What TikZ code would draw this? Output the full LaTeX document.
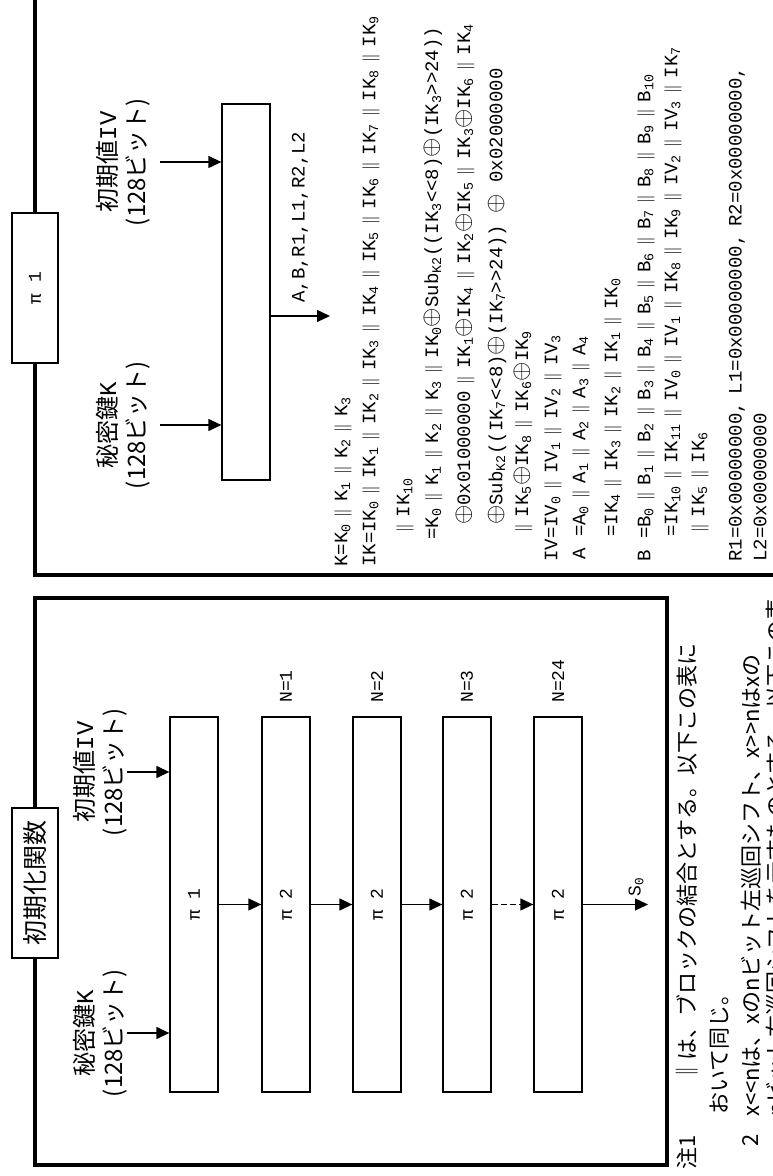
\documentclass[tikz,border=0pt]{standalone}
\usepackage{fontspec}
\setmainfont{Liberation Mono}
\newfontfamily\jpfont{Noto Sans CJK JP}
\usetikzlibrary{arrows.meta,positioning}
\newcommand\cat{\hspace{7pt}$\|$\hspace{7pt}}
\newcommand\xo{{\fontsize{24}{24}\selectfont$\oplus$}}
\newcommand\ix[1]{\textsubscript{#1}}
\newcommand\shl{<\kern0pt<}
\newcommand\shr{>\kern0pt>}
\tikzset{
  frame/.style={line width=4.5pt},
  tab/.style={draw,line width=1.3pt,fill=white,minimum width=150pt,minimum height=46pt,inner sep=0pt},
  stage/.style={draw,line width=1.3pt,minimum width=375pt,minimum height=48pt,inner sep=0pt,font=\fontsize{18}{22}\selectfont},
  flow/.style={line width=1.3pt,-{Triangle[length=13pt,width=12pt]}},
  jlab/.style={font=\jpfont\fontsize{24}{29}\selectfont,align=center,inner sep=0pt},
  tag/.style={anchor=west,inner sep=0pt,font=\fontsize{18}{22}\selectfont},
  eq/.style={anchor=west,inner sep=0pt,font=\fontsize{19}{23}\selectfont},
  note/.style={anchor=west,inner sep=0pt,font=\jpfont\fontsize{22}{26}\selectfont},
}
\begin{document}
\begin{tikzpicture}[x=1pt,y=1pt]
\useasboundingbox (0,0) rectangle (773,1176);
\clip (0,0) rectangle (773,1176);
% drawn lying on its side, then turned
\begin{scope}[rotate=90,transform shape]
% panels
\draw[frame] (11,-35) rectangle (578,-667);
\draw[frame] (601,-35) rectangle (1260,-860);
\node[tab,font=\jpfont\fontsize{25}{30}\selectfont] (initlab) at (293,-35) {初期化関数};
\node[tab,font=\fontsize{18}{22}\selectfont] (pilab) at (888,-35) {π 1};

% left panel: the chain of rounds
\node[stage] (p0) at (271.5,-194) {π 1};
\node[stage] (p1) at (271.5,-286) {π 2};
\node[stage] (p2) at (271.5,-377) {π 2};
\node[stage] (p3) at (271.5,-467) {π 2};
\node[stage] (p4) at (271.5,-558) {π 2};
\node[tag] (n1) at (473,-286) {N=1};
\node[tag] (n2) at (473,-377) {N=2};
\node[tag] (n3) at (473,-467) {N=3};
\node[tag] (n24) at (473,-558) {N=24};
\draw[flow] (p0) -- (p1);
\draw[flow] (p1) -- (p2);
\draw[flow] (p2) -- (p3);
\draw[flow,dash pattern=on 6pt off 3pt] (p3) -- (p4);
\coordinate (s0) at (271.5,-648);
\draw[flow] (p4) -- (s0);
\node[tag] (s0lab) at (279,-636) {S\ix{0}};

\node[jlab,anchor=south] (keyL) at (143,-127) {秘密鍵{\rmfamily K}\\(128ビット)};
\node[jlab,anchor=south] (ivL) at (404,-127) {初期値{\rmfamily IV}\\(128ビット)};
\draw[flow] (keyL.south) -- (keyL.south |- p0.north);
\draw[flow] (ivL.south) -- (ivL.south |- p0.north);

% right panel: inside pi 1
\node[stage,minimum width=376pt] (pione) at (884,-246) {};
\node[jlab,anchor=south] (keyR) at (751,-150) {秘密鍵{\rmfamily K}\\(128ビット)};
\node[jlab,anchor=south] (ivR) at (1014,-150) {初期値{\rmfamily IV}\\(128ビット)};
\draw[flow,shorten <=10pt] (keyR.south) -- (keyR.south |- pione.north);
\draw[flow,shorten <=10pt] (ivR.south) -- (ivR.south |- pione.north);
\coordinate (about) at (860,-330);
\draw[flow] (about |- pione.south) -- (about);
\node[eq] (outlab) at (873,-300) {A,B,R1,L1,R2,L2};

% definitions
\node[eq] (eq1) at (609,-343) {K=K\ix0\cat K\ix1\cat K\ix2\cat K\ix3};
\node[eq] (eq2) at (609,-371) {IK=IK\ix0\cat IK\ix1\cat IK\ix2\cat IK\ix3\cat IK\ix4\cat IK\ix5\cat IK\ix6\cat IK\ix7\cat IK\ix8\cat IK\ix9};
\node[eq] (eq3) at (643,-405) {$\|$\hspace{7pt}IK\ix{10}};
\node[eq] (eq4) at (636,-433) {=K\ix0\cat K\ix1\cat K\ix2\cat K\ix3\cat IK\ix0\xo Sub\ix{K2}((IK\ix3\shl8)\xo(IK\ix3\shr24))};
\node[eq] (eq5) at (651,-465) {\xo 0x01000000\cat IK\ix1\xo IK\ix4\cat IK\ix2\xo IK\ix5\cat IK\ix3\xo IK\ix6\cat IK\ix4};
\node[eq] (eq6) at (651,-497) {\xo Sub\ix{K2}((IK\ix7\shl8)\xo(IK\ix7\shr24))\ \xo\ 0x02000000};
\node[eq] (eq7) at (643,-523) {$\|$\hspace{7pt}IK\ix5\xo IK\ix8\cat IK\ix6\xo IK\ix9};
\node[eq] (eq8) at (614,-553) {IV=IV\ix0\cat IV\ix1\cat IV\ix2\cat IV\ix3};
\node[eq] (eq9) at (616,-581) {A =A\ix0\cat A\ix1\cat A\ix2\cat A\ix3\cat A\ix4};
\node[eq] (eq10) at (639,-613) {=IK\ix4\cat IK\ix3\cat IK\ix2\cat IK\ix1\cat IK\ix0};
\node[eq] (eq11) at (614,-646) {B =B\ix0\cat B\ix1\cat B\ix2\cat B\ix3\cat B\ix4\cat B\ix5\cat B\ix6\cat B\ix7\cat B\ix8\cat B\ix9\cat B\ix{10}};
\node[eq] (eq12) at (639,-673) {=IK\ix{10}\cat IK\ix{11}\cat IV\ix0\cat IV\ix1\cat IK\ix8\cat IK\ix9\cat IV\ix2\cat IV\ix3\cat IK\ix7};
\node[eq] (eq13) at (643,-700) {$\|$\hspace{7pt}IK\ix5\cat IK\ix6};
\node[eq] (eq14) at (614,-737) {R1=0x00000000,\hspace{8pt}L1=0x00000000,\hspace{8pt}R2=0x00000000,};
\node[eq] (eq15) at (614,-760) {L2=0x00000000};

% notes under the left panel
\node[note] (note1) at (6,-687) {注1};
\node[note] (note1a) at (93,-687) {‖は、ブロックの結合とする。以下この表に};
\node[note] (note1b) at (61,-720) {おいて同じ。};
\node[note] (note2) at (29,-751) {2};
\node[note] (note2a) at (59,-751) {x<<nは、xのnビット左巡回シフト、x>>nはxの};
\node[note] (note2b) at (59,-776) {nビット右巡回シフトを示すものとする。以下この表};
\end{scope}
\end{tikzpicture}
\end{document}
